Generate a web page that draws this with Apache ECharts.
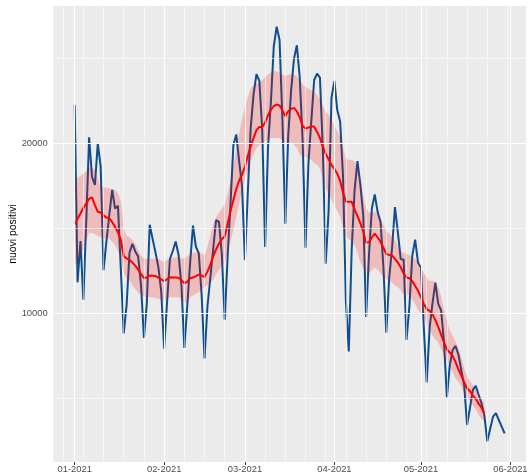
<!DOCTYPE html>
<html>
<head>
<meta charset="utf-8">
<script src="https://cdn.jsdelivr.net/npm/echarts@6/dist/echarts.min.js"></script>
<style>
html,body{margin:0;padding:0;background:#fff;}
#chart{width:529px;height:474px;}
</style>
</head>
<body>
<div id="chart"></div>
<script>
// Day 0 = 2021-01-01
const startDate = '2021-01-01';

// daily new positives (blue line), 2021-01-01 .. 2021-05-30
const nuoviPositivi = [
  22211,11831,14245,10800,15378,20331,18020,17533,19978,18627,12532,14242,15774,17246,16146,16310,12545,8825,10497,13571,14078,13633,13331,11629,8562,10593,15204,14372,13574,12715,11252,
  7925,10630,13189,13659,14218,13442,11641,7970,10404,12956,15146,13908,13532,11068,7351,10386,12074,13762,15479,15370,13452,9630,13314,16424,19886,20499,18916,17455,
  13114,17083,20884,22865,24036,23641,20765,13902,19749,22409,25673,26824,26062,21315,15267,20396,23059,24935,25735,23832,20159,13846,18765,21267,23696,24076,23839,19611,12916,16017,22650,
  23649,21932,21261,18025,10680,7767,13708,17221,18938,17567,15746,9789,13447,16168,16974,15943,15370,12694,8864,12074,13844,16232,14761,13176,13158,8444,10404,13385,14320,12965,
  12694,9148,5948,9116,10585,11807,10554,10176,8292,5080,6946,7852,8085,7567,6659,5753,3455,4452,5506,5741,5218,4717,3995,2490,3224,3937,4147,3738,3351,2949
];

// smoothed average (red line), 2021-01-01 .. 2021-05-23
const mediaMobile = [
  15230,15550,15860,16180,16450,16720,16810,16350,15960,15920,15750,15620,15580,15350,15075,14750,14300,13350,13230,13130,12980,12800,12560,12300,12080,12100,12220,12210,12190,12100,12000,
  11880,12000,12125,12110,12100,12090,11950,11780,11850,12065,12100,12180,12270,12220,12130,12450,12850,13350,13750,14100,14350,14520,15250,16000,16650,17300,17800,18150,
  18600,19250,19800,20300,20750,20945,20945,21200,21630,21950,22170,22250,22200,21900,21570,21860,22000,22060,21850,21500,21000,20850,20900,20990,20950,20650,20300,19800,19350,19050,18700,
  18480,18200,17770,17100,16550,16550,16550,16100,15700,15300,14800,14150,14180,14450,14680,14450,14200,13850,13480,13430,13400,13200,12980,12700,12350,12100,12060,11900,11600,11320,
  10950,10550,10250,10150,9950,9600,9200,8750,8300,7880,7700,7500,7150,6700,6350,5950,5600,5430,5180,4980,4700,4460,4120
];

// ribbon lower / upper bounds, 2021-01-01 .. 2021-05-23
const bandaInferiore = [
  12760,13100,13450,13750,14250,14750,14720,14640,14550,14480,14440,14410,14390,14200,14000,13650,13150,12300,12050,11950,11650,11420,11230,11100,10980,10950,10944,10930,10900,10860,10800,
  10750,10850,10944,10944,10944,10944,10850,10650,10600,10944,11050,11150,11239,11400,11534,11650,11800,11950,12300,12550,12800,13000,13600,14200,14900,15650,16400,17200,
  17800,18400,18950,19350,19700,19880,20000,20100,20200,20295,20295,20295,20295,20150,20000,20094,20000,19900,19700,19300,19210,19180,19100,19000,18830,18720,18500,17900,17300,17000,16650,
  16350,16000,15650,15000,14550,14350,14200,14000,13550,13000,12650,12450,12330,12550,12700,12550,12380,12150,12000,11950,11800,11630,11550,11350,11100,11050,11100,10800,10550,10200,
  10000,9800,9400,9000,8700,8500,8300,7900,7500,7200,6900,6550,6200,5950,5700,5300,5000,4850,4600,4350,4050,3800,3700
];
const bandaSuperiore = [
  17790,17950,18080,18200,18350,18550,18550,18420,17900,17430,17400,17370,17340,17300,17240,17050,16600,15000,14550,14480,14300,14050,13700,13400,13230,13210,13210,13210,13210,13210,13100,
  13010,13150,13210,13250,13280,13300,13250,13210,13350,13500,13550,13580,13600,13500,13400,13900,14600,15200,15650,15900,16150,16400,17000,17800,18700,19650,20550,21400,
  22100,22700,23200,23400,23480,23540,23700,23840,24000,24150,24220,24200,24130,24000,23930,24000,24030,24030,23900,23700,23450,23300,23180,23100,23000,22800,22550,22200,21800,21650,21350,
  21050,20700,20390,19700,19100,19020,19000,18920,18500,17900,16900,16200,15900,15930,15960,15750,15500,15200,14850,14700,14500,14300,13950,13650,13550,13480,13400,13300,13210,12950,
  12650,12350,12100,11900,11930,11800,11550,11000,10200,9600,9000,8700,8350,7950,7450,6750,6300,6030,5800,5480,5250,4950,4750
];

// x-axis ticks (day offsets of month starts) and labels
const monthTickDays = [0, 31, 59, 90, 120, 151];
const monthTickLabels = ['01-2021', '02-2021', '03-2021', '04-2021', '05-2021', '06-2021'];
// weekly (Monday) minor grid lines, day offsets
const weekLineDays = [-4,3,10,17,24,31,38,45,52,59,66,73,80,87,94,101,108,115,122,129,136,143,150];
// y-axis ticks and minor grid values
const yTickValues = [10000, 20000];
const yMinorValues = [5000, 15000, 25000];

const FONT = '"Liberation Sans", Arial, sans-serif';

const blueData = nuoviPositivi.map((v, i) => [i, v]);
const redData = mediaMobile.map((v, i) => [i, v]);
const bandData = bandaInferiore.map((v, i) => [i, v, bandaSuperiore[i]]);

const gridLines = [];
weekLineDays.forEach(d => gridLines.push({ xAxis: d, lineStyle: { color: '#ffffff', width: 0.55, type: 'solid' } }));
yMinorValues.forEach(v => gridLines.push({ yAxis: v, lineStyle: { color: '#ffffff', width: 0.55, type: 'solid' } }));
monthTickDays.forEach(d => gridLines.push({ xAxis: d, lineStyle: { color: '#ffffff', width: 1.1, type: 'solid' } }));
yTickValues.forEach(v => gridLines.push({ yAxis: v, lineStyle: { color: '#ffffff', width: 1.1, type: 'solid' } }));

function renderBand(params, api) {
  if (params.dataIndex !== 0) return null;
  const pts = [];
  for (let i = 0; i < bandData.length; i++) pts.push(api.coord([bandData[i][0], bandData[i][2]]));
  for (let i = bandData.length - 1; i >= 0; i--) pts.push(api.coord([bandData[i][0], bandData[i][1]]));
  return {
    type: 'polygon',
    shape: { points: pts },
    style: { fill: 'rgba(255,0,0,0.2)', stroke: null },
    silent: true
  };
}

const chart = echarts.init(document.getElementById('chart'), null, { renderer: 'canvas' });
chart.setOption({
  animation: false,
  backgroundColor: '#ffffff',
  grid: { left: 53.2, right: 2.9, top: 6, bottom: 12, show: true, backgroundColor: '#EBEBEB', borderWidth: 0, containLabel: false, outerBoundsMode: 'none' },
  xAxis: {
    type: 'value', min: -7.45, max: 156.45,
    axisLine: { show: false },
    splitLine: { show: false },
    axisTick: { show: true, customValues: monthTickDays, length: 3, lineStyle: { color: '#333333', width: 1 } },
    axisLabel: {
      customValues: monthTickDays,
      formatter: v => monthTickLabels[monthTickDays.indexOf(v)] || '',
      color: '#4D4D4D', fontSize: 9.4, fontFamily: FONT, margin: 3
    }
  },
  yAxis: {
    type: 'value', min: 1273, max: 28041,
    name: 'nuovi positivi', nameLocation: 'middle', nameRotate: 90, nameGap: 35, nameMoveOverlap: false,
    nameTextStyle: { color: '#000000', fontSize: 10.4, fontFamily: FONT },
    axisLine: { show: false },
    splitLine: { show: false },
    axisTick: { show: true, customValues: yTickValues, length: 3, lineStyle: { color: '#333333', width: 1 } },
    axisLabel: {
      customValues: yTickValues,
      formatter: v => String(v),
      color: '#4D4D4D', fontSize: 9.4, fontFamily: FONT, margin: 5.5
    }
  },
  series: [
    {
      type: 'line', data: [], z: 1, silent: true,
      markLine: { silent: true, symbol: 'none', animation: false, label: { show: false }, emphasis: { disabled: true }, data: gridLines }
    },
    {
      name: 'nuovi positivi', type: 'line', data: blueData, z: 2, showSymbol: false, symbol: 'none',
      lineStyle: { color: '#104E8B', width: 2 }, silent: true
    },
    {
      name: 'banda', type: 'custom', data: bandData, z: 3, silent: true,
      encode: { x: 0, y: [1, 2] },
      renderItem: renderBand
    },
    {
      name: 'media', type: 'line', data: redData, z: 4, showSymbol: false, symbol: 'none',
      lineStyle: { color: '#FF0000', width: 2 }, silent: true
    }
  ]
});
</script>
</body>
</html>
